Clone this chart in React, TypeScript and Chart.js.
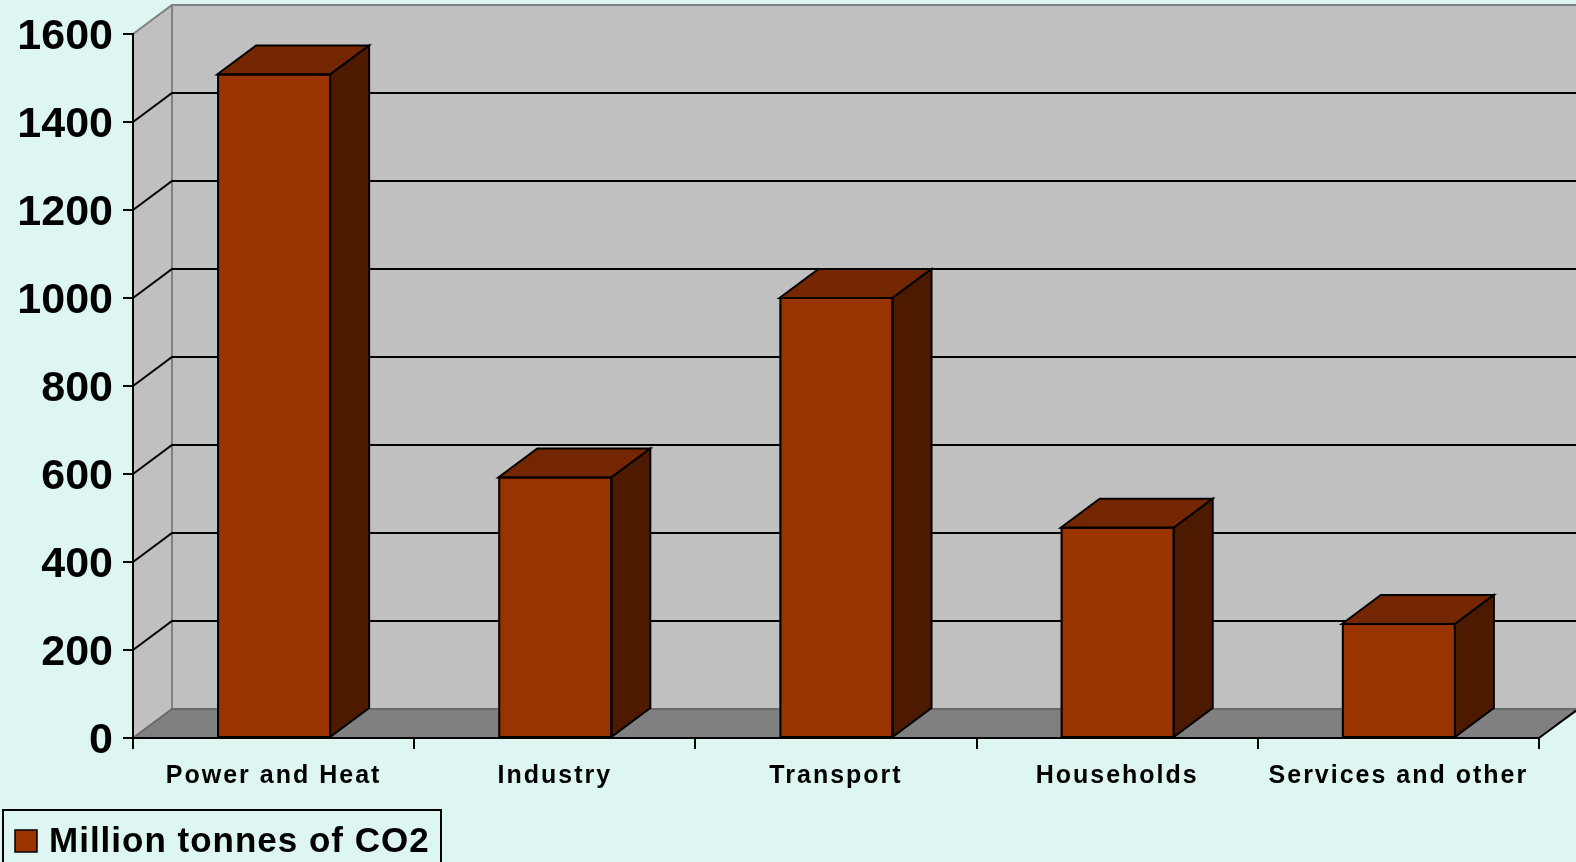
import React, { useEffect, useRef } from "react";
import { Chart, registerables } from "chart.js";

Chart.register(...registerables);

const categories = ["Power and Heat", "Industry", "Transport", "Households", "Services and other"];
const seriesLabel = "Million tonnes of CO2";
const seriesValues = [1508, 592, 1000, 478, 259];
const yTicks = [0, 200, 400, 600, 800, 1000, 1200, 1400, 1600];

const BG = "#def6f1";
const FRONT = "#993300";
const TOP = "#732600";
const SIDE = "#4d1a00";
const WALL = "#c0c0c0";
const FLOOR = "#808080";
const DX = 39;
const DY = -29;
const FONT = "'Liberation Sans', Arial, sans-serif";

const threeD = {
  id: "threeD",
  afterLayout(chart: any) {
    const xs = chart.scales.x;
    if (xs && !xs.__spaced) {
      const orig = xs.drawLabels;
      xs.drawLabels = function (area: any) {
        const c = chart.ctx;
        c.save();
        (c as any).letterSpacing = "2px";
        orig.call(this, area);
        c.restore();
      };
      xs.__spaced = true;
    }
  },
  beforeDraw(chart: any) {
    const { ctx, chartArea, width, height } = chart;
    const ys = chart.scales.y;
    const { left, right, top, bottom } = chartArea;
    ctx.save();
    ctx.fillStyle = BG;
    ctx.fillRect(0, 0, width, height);
    ctx.fillStyle = WALL;
    ctx.fillRect(left + DX, top + DY, width - (left + DX), bottom - top);
    ctx.beginPath();
    ctx.moveTo(left, top);
    ctx.lineTo(left + DX, top + DY);
    ctx.lineTo(left + DX, bottom + DY);
    ctx.lineTo(left, bottom);
    ctx.closePath();
    ctx.fill();
    ctx.fillStyle = FLOOR;
    ctx.beginPath();
    ctx.moveTo(left, bottom);
    ctx.lineTo(left + DX, bottom + DY);
    ctx.lineTo(right + DX, bottom + DY);
    ctx.lineTo(width + 10, bottom + DY);
    ctx.lineTo(width + 10, bottom + DY + 2);
    ctx.lineTo(right + DX, bottom + DY + 2);
    ctx.lineTo(right, bottom);
    ctx.closePath();
    ctx.fill();
    ctx.strokeStyle = "#000";
    ctx.lineWidth = 2;
    ctx.beginPath();
    ctx.moveTo(right, bottom);
    ctx.lineTo(right + DX, bottom + DY);
    ctx.stroke();
    ctx.strokeStyle = "#808080";
    ctx.lineWidth = 2;
    ctx.beginPath();
    ctx.moveTo(left, top);
    ctx.lineTo(left + DX, top + DY);
    ctx.lineTo(width, top + DY);
    ctx.moveTo(left + DX, top + DY);
    ctx.lineTo(left + DX, bottom + DY);
    ctx.stroke();
    ctx.strokeStyle = "#6a6a6a";
    ctx.beginPath();
    ctx.moveTo(left, bottom);
    ctx.lineTo(left + DX, bottom + DY);
    ctx.lineTo(width, bottom + DY);
    ctx.stroke();
    ctx.strokeStyle = "#000";
    ctx.lineWidth = 2;
    ys.ticks.forEach((t: any) => {
      if (t.value <= ys.min || t.value >= ys.max) return;
      const py = ys.getPixelForValue(t.value);
      ctx.beginPath();
      ctx.moveTo(left, py);
      ctx.lineTo(left + DX, py + DY);
      ctx.lineTo(width, py + DY);
      ctx.stroke();
    });
    ctx.restore();
  },
  afterDatasetsDraw(chart: any) {
    const { ctx } = chart;
    const meta = chart.getDatasetMeta(0);
    ctx.save();
    ctx.strokeStyle = "#000";
    ctx.lineWidth = 2;
    ctx.lineJoin = "miter";
    meta.data.forEach((el: any) => {
      const { x, y, base, width } = el.getProps(["x", "y", "base", "width"], true);
      const l = x - width / 2;
      const r = x + width / 2;
      ctx.fillStyle = TOP;
      ctx.beginPath();
      ctx.moveTo(l, y);
      ctx.lineTo(l + DX, y + DY);
      ctx.lineTo(r + DX, y + DY);
      ctx.lineTo(r, y);
      ctx.closePath();
      ctx.fill();
      ctx.stroke();
      ctx.fillStyle = SIDE;
      ctx.beginPath();
      ctx.moveTo(r, y);
      ctx.lineTo(r + DX, y + DY);
      ctx.lineTo(r + DX, base + DY);
      ctx.lineTo(r, base);
      ctx.closePath();
      ctx.fill();
      ctx.stroke();
      ctx.strokeRect(l + 1, y, width - 1, base - y);
    });
    ctx.restore();
  },
  afterDraw(chart: any) {
    const { ctx } = chart;
    const ds = chart.data.datasets[0];
    ctx.save();
    ctx.fillStyle = BG;
    ctx.strokeStyle = "#000";
    ctx.lineWidth = 2;
    ctx.fillRect(3, 810, 438, 70);
    ctx.strokeRect(3, 810, 438, 70);
    ctx.fillStyle = ds.backgroundColor;
    ctx.fillRect(15, 830, 22, 22);
    ctx.lineWidth = 1.5;
    ctx.strokeRect(15, 830, 22, 22);
    ctx.fillStyle = "#000";
    ctx.font = "bold 35px " + FONT;
    (ctx as any).letterSpacing = "1px";
    ctx.textBaseline = "alphabetic";
    ctx.textAlign = "left";
    ctx.fillText(ds.label, 49, 852);
    ctx.restore();
  },
};

export default function App() {
  const ref = useRef<HTMLCanvasElement | null>(null);
  useEffect(() => {
    document.body.style.margin = "0";
    document.body.style.background = BG;
    const chart = new Chart(ref.current as HTMLCanvasElement, {
      type: "bar",
      data: {
        labels: categories,
        datasets: [
          {
            label: seriesLabel,
            data: seriesValues,
            backgroundColor: FRONT,
            borderColor: "#000",
            borderWidth: 0,
            barPercentage: 0.402,
            categoryPercentage: 1,
          },
        ],
      },
      plugins: [threeD],
      options: {
        animation: false,
        responsive: false,
        devicePixelRatio: 1,
        layout: { padding: { top: 34, right: 37, left: 0, bottom: 0 } },
        plugins: { legend: { display: false }, tooltip: { enabled: false } },
        scales: {
          x: {
            afterFit: (s: any) => {
              s.height = 124;
            },
            grid: {
              offset: true,
              drawOnChartArea: false,
              drawTicks: true,
              tickLength: 11,
              color: "#000",
              lineWidth: 2,
            },
            border: { display: true, color: "#000", width: 2 },
            ticks: {
              color: "#000",
              padding: 12,
              maxRotation: 0,
              font: { family: FONT, size: 25, weight: "bold" },
            },
          },
          y: {
            min: 0,
            max: 1600,
            afterFit: (s: any) => {
              s.width = 133;
            },
            afterBuildTicks: (s: any) => {
              s.ticks = yTicks.map((v) => ({ value: v }));
            },
            grid: {
              drawOnChartArea: false,
              drawTicks: true,
              tickLength: 10,
              color: "#000",
              lineWidth: 2,
            },
            border: { display: true, color: "#000", width: 2 },
            ticks: {
              color: "#000",
              padding: 10,
              labelOffset: 3,
              callback: (v: any) => String(v),
              font: { family: FONT, size: 43, weight: "bold", lineHeight: 1 },
            },
          },
        },
      },
    });
    return () => chart.destroy();
  }, []);
  return (
    <div style={{ position: "fixed", left: 0, top: 0, width: 1576, height: 862, background: BG }}>
      <canvas ref={ref} width={1576} height={862} />
    </div>
  );
}
